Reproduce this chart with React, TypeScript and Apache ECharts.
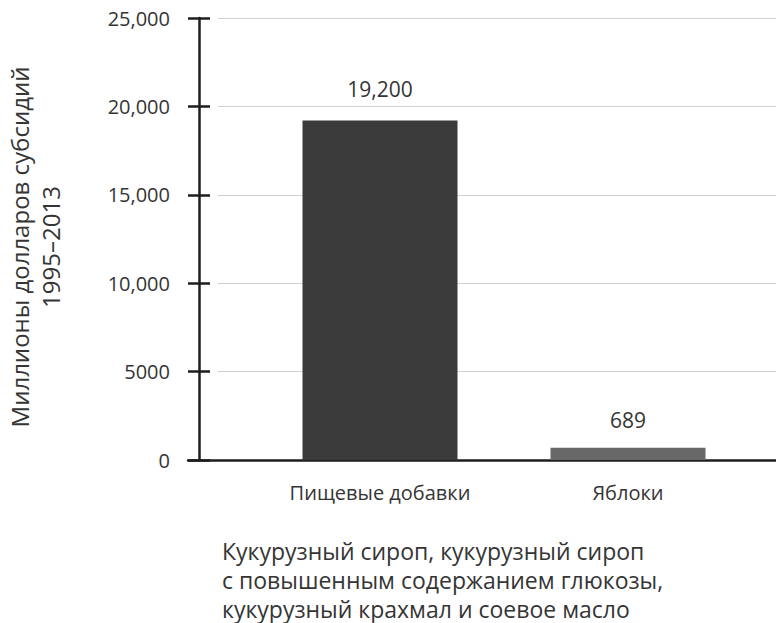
import React, { useEffect, useRef } from "react";
import * as echarts from "echarts";

const categories = ["Пищевые добавки", "Яблоки"];
const subsidies = [19200, 689];
const barColors = ["#3b3b3b", "#686868"];
const labelDistances = [21, 17];
const yTicks = [0, 5000, 10000, 15000, 20000, 25000];
const yTickLabels = ["0", "5000", "10,000", "15,000", "20,000", "25,000"];
const yAxisTitle = ["Миллионы долларов субсидий", "1995–2013"];
const footnote = [
  "Кукурузный сироп, кукурузный сироп",
  "с повышенным содержанием глюкозы,",
  "кукурузный крахмал и соевое масло",
];

const FONT = "'Open Sans', 'Noto Sans', sans-serif";
const TEXT = "#353535";
const YMAX = 25000;
const TOP = 18;
const HEIGHT = 442;

export default function App() {
  const ref = useRef<HTMLDivElement>(null);

  useEffect(() => {
    if (!ref.current) return;
    const chart = echarts.init(ref.current, undefined, { renderer: "svg" });

    const hidden = { show: false };
    const grids = [
      { left: 188, right: 0, top: TOP, height: HEIGHT }, // baseline
      { left: 218, right: 0, top: TOP, height: HEIGHT }, // gridlines
      { left: 199, right: 0, top: TOP, height: HEIGHT }, // value axis
      { left: 256, right: 24, top: TOP, height: HEIGHT }, // bars
    ];

    chart.setOption({
      animation: false,
      backgroundColor: "#ffffff",
      textStyle: { fontFamily: FONT },
      grid: grids,
      xAxis: [
        {
          gridIndex: 0,
          type: "category",
          data: [""],
          axisLine: { show: true, lineStyle: { color: "#1e1e1e", width: 2.5 } },
          axisTick: hidden,
          axisLabel: hidden,
        },
        { gridIndex: 1, type: "category", data: [""], show: false },
        { gridIndex: 2, type: "category", data: [""], show: false },
        {
          gridIndex: 3,
          type: "category",
          data: categories,
          axisLine: hidden,
          axisTick: hidden,
          axisLabel: {
            color: TEXT,
            fontSize: 20,
            fontFamily: FONT,
            margin: 22,
          },
        },
      ],
      yAxis: [
        { gridIndex: 0, type: "value", min: 0, max: YMAX, show: false },
        {
          gridIndex: 1,
          type: "value",
          min: 0,
          max: YMAX,
          interval: 5000,
          axisLine: hidden,
          axisTick: hidden,
          axisLabel: hidden,
          splitLine: { show: true, lineStyle: { color: "#cfcfcf", width: 1.2 } },
        },
        {
          gridIndex: 2,
          type: "value",
          position: "left",
          min: 0,
          max: YMAX,
          interval: 5000,
          axisLine: { show: true, lineStyle: { color: "#1e1e1e", width: 2.5 } },
          axisTick: { show: true, length: 11, lineStyle: { color: "#1e1e1e", width: 2.5 } },
          axisLabel: {
            color: TEXT,
            fontSize: 20,
            fontFamily: FONT,
            margin: 29,
            formatter: (v: number) => yTickLabels[yTicks.indexOf(v)] ?? String(v),
          },
          splitLine: hidden,
        },
        {
          gridIndex: 2,
          type: "value",
          position: "left",
          offset: 0,
          min: 0,
          max: YMAX,
          interval: 5000,
          axisLine: hidden,
          axisLabel: hidden,
          splitLine: hidden,
          axisTick: {
            show: true,
            inside: true,
            length: 11,
            lineStyle: { color: "#1e1e1e", width: 2.5 },
          },
        },
        { gridIndex: 3, type: "value", min: 0, max: YMAX, show: false },
      ],
      series: [
        {
          type: "bar",
          xAxisIndex: 3,
          yAxisIndex: 4,
          barWidth: 155,
          data: subsidies.map((v, i) => ({
            value: v,
            itemStyle: { color: barColors[i] },
            label: { distance: labelDistances[i] },
          })),
          label: {
            show: true,
            position: "top",
            color: TEXT,
            fontSize: 21,
            fontFamily: FONT,
            formatter: (p: any) => Number(p.value).toLocaleString("en-US"),
          },
        },
      ],
      graphic: [
        {
          type: "text",
          x: 35,
          y: 247,
          rotation: Math.PI / 2,
          style: {
            text: yAxisTitle.join("\n"),
            fill: TEXT,
            font: `24px ${FONT}`,
            lineHeight: 31,
            align: "center",
            verticalAlign: "middle",
          },
        },
        {
          type: "text",
          left: 222,
          top: 536,
          style: {
            text: footnote.join("\n"),
            fill: TEXT,
            font: `23px ${FONT}`,
            lineHeight: 29,
            align: "left",
          },
        },
      ],
    });

    return () => chart.dispose();
  }, []);

  return (
    <div
      ref={ref}
      style={{ position: "fixed", left: 0, top: 0, width: 776, height: 623 }}
    />
  );
}
